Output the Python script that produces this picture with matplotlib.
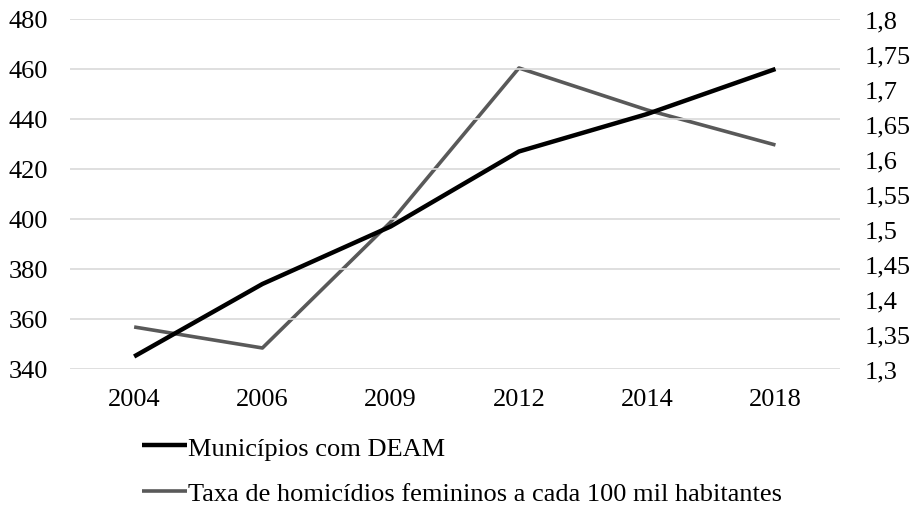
import matplotlib.pyplot as plt
from matplotlib.ticker import FuncFormatter

plt.rcParams['font.family'] = ['Liberation Serif', 'DejaVu Serif']

anos = ['2004', '2006', '2009', '2012', '2014', '2018']
municipios_deam = [345, 374, 397, 427, 442, 460]
taxa_homicidios = [1.36, 1.33, 1.51, 1.73, 1.67, 1.62]

fig = plt.figure(figsize=(9.14, 5.06), dpi=100)
ax = fig.add_axes([0.0766, 0.2688, 0.842, 0.6917])
ax2 = ax.twinx()

x = range(len(anos))
l1, = ax.plot(x, municipios_deam, color='black', lw=3.2, solid_capstyle='butt',
              label='Municípios com DEAM')
l2, = ax2.plot(x, taxa_homicidios, color='#595959', lw=2.6, solid_capstyle='butt',
               label='Taxa de homicídios femininos a cada 100 mil habitantes')
ax.set_zorder(ax2.get_zorder() + 1)
ax.patch.set_visible(False)

ax.set_xlim(-0.5, len(anos) - 0.5)
ax.set_ylim(340, 480)
ax.set_yticks(range(340, 481, 20))
ax2.set_ylim(1.3, 1.8)
ax2.set_yticks([1.3 + 0.05 * i for i in range(11)])
ax2.yaxis.set_major_formatter(FuncFormatter(lambda v, p: ('%g' % round(v, 2)).replace('.', ',')))
ax.set_xticks(list(x))
ax.set_xticklabels(anos)

ax.grid(axis='y', color='#d9d9d9', lw=1.2)
ax.set_axisbelow(True)
for a in (ax, ax2):
    for s in a.spines.values():
        s.set_visible(False)
    a.tick_params(length=0, labelsize=19)
ax.tick_params(axis='y', pad=16)
ax.tick_params(axis='x', pad=14)
ax2.tick_params(axis='y', pad=18)

fig.legend(handles=[l1, l2], loc='upper left', bbox_to_anchor=(0.155, 0.136),
           frameon=False, fontsize=19, handlelength=1.7, handletextpad=0.05,
           labelspacing=0.82, borderaxespad=0, borderpad=0)

fig.savefig('out.png', dpi=100)
